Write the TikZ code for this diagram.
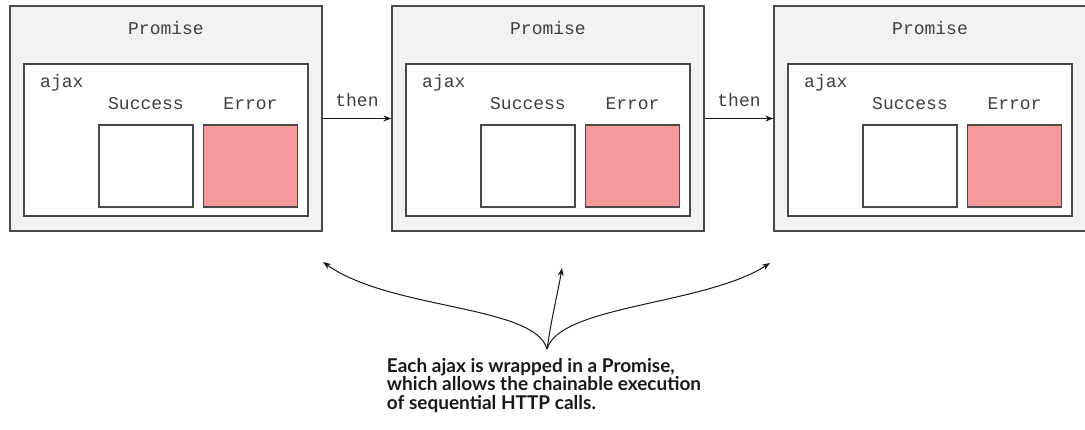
\documentclass[tikz,border=0pt]{standalone}
\usepackage{fontspec}
\setmainfont{Liberation Serif}
\newfontfamily\codefont{Liberation Mono}
\newfontfamily\notefont{Lato}
\usetikzlibrary{arrows.meta,positioning}
\definecolor{promisegray}{HTML}{F1F2F4}
\definecolor{errorpink}{HTML}{F4999C}
\definecolor{edgegray}{HTML}{4A4A4A}
\tikzset{
  promisebox/.style={draw=edgegray,fill=promisegray,line width=1.3pt,inner sep=0pt,
    minimum width=312pt,minimum height=225pt},
  ajaxbox/.style={draw=edgegray,fill=white,line width=1.3pt,inner sep=0pt,
    minimum width=284pt,minimum height=152pt},
  successbox/.style={draw=edgegray,fill=white,line width=1.3pt,inner sep=0pt,
    minimum width=94pt,minimum height=82pt},
  errorbox/.style={successbox,fill=errorpink},
  codelabel/.style={font=\codefont\fontsize{18}{20}\selectfont,text=black!75,inner sep=0pt},
  chainarrow/.style={-{Stealth[length=8pt,width=6pt]},line width=1pt,draw=black!90},
}
\begin{document}
\begin{tikzpicture}[x=1pt,y=-1pt]
    \useasboundingbox (0,0) rectangle (1085,429);
    % --- three promises, each wrapping an ajax call ---
    \foreach \i/\dx in {1/0,2/382,3/764} {
      \begin{scope}[xshift=\dx pt]
        \node[promisebox] (promise\i) at (166,118.5) {};
        \node[codelabel] (promiselabel\i) at (166,28) {Promise};
        \node[ajaxbox] (ajax\i) at (166,140) {};
        \node[codelabel,anchor=west] (ajaxlabel\i) at (40,83) {ajax};
        \node[codelabel] (successlabel\i) at (146,104) {Success};
        \node[codelabel] (errorlabel\i) at (250.5,104) {Error};
        \node[successbox] (success\i) at (146,166) {};
        \node[errorbox] (error\i) at (250.5,166) {};
      \end{scope}
    }
    % --- then ---
    \draw[chainarrow] (promise1.east) -- (promise2.west)
      node[midway,above=11pt,codelabel] (then1) {then};
    \draw[chainarrow] (promise2.east) -- (promise3.west)
      node[midway,above=11pt,codelabel] (then2) {then};
    % --- note and its three pointers ---
    \coordinate (fork) at (547,349);
    \coordinate (tipleft) at (323,262);
    \coordinate (tipmid) at (562,268);
    \coordinate (tipright) at (770,263);
    \node[below=9pt of fork,xshift=-3pt,inner sep=0pt,align=left,
      font=\notefont\bfseries\fontsize{19}{18.5}\selectfont,text=black!90] (note)
      {Each ajax is wrapped in a Promise,\\which allows the chainable execution\\of sequential HTTP calls.};
    \draw[chainarrow] (fork) .. controls (535,305) and (390,310) .. (tipleft);
    \draw[chainarrow] (fork) .. controls (552,315) and (558,292) .. (tipmid);
    \draw[chainarrow] (fork) .. controls (560,305) and (705,305) .. (tipright);
  \end{tikzpicture}
\end{document}
